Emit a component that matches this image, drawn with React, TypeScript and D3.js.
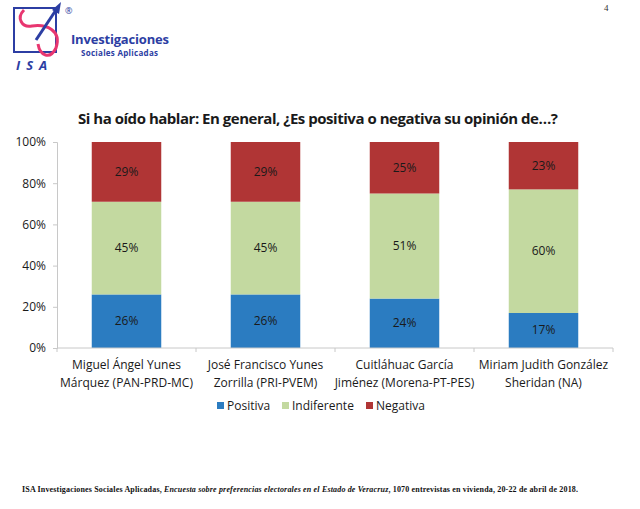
import React, { useEffect, useRef } from 'react'
import * as d3 from 'd3'

const candidates = [
  ['Miguel Ángel Yunes', 'Márquez (PAN-PRD-MC)'],
  ['José Francisco Yunes', 'Zorrilla (PRI-PVEM)'],
  ['Cuitláhuac García', 'Jiménez (Morena-PT-PES)'],
  ['Miriam Judith González', 'Sheridan (NA)'],
]
const positiva = [26, 26, 24, 17]
const indiferente = [45, 45, 51, 60]
const negativa = [29, 29, 25, 23]
const seriesNames = ['Positiva', 'Indiferente', 'Negativa'] as const
const yTicks = [0, 20, 40, 60, 80, 100]
const colors = ['#2b7cc1', '#c3d9a0', '#b03535']

const FONT = "'Open Sans', 'Noto Sans', sans-serif"

const App: React.FC = () => {
  const svgRef = useRef<SVGSVGElement | null>(null)

  useEffect(() => {
    if (!svgRef.current) return
    const svg = d3.select(svgRef.current)
    svg.selectAll('*').remove()
    const width = 640
    const height = 509
    const margin = { top: 142, right: 27, bottom: 161, left: 57 }

    svg.append('rect').attr('width', width).attr('height', height).attr('fill', '#fff')

    // ----------- Logo -----------
    const logo = svg.append('g')
    logo
      .append('rect')
      .attr('x', 14)
      .attr('y', 8)
      .attr('width', 42)
      .attr('height', 44)
      .attr('fill', 'none')
      .attr('stroke', '#2c3ea3')
      .attr('stroke-width', 2)
    logo
      .append('path')
      .attr('d', 'M24 10 C 16 18, 22 28, 32 26 C 46 24, 62 30, 56 48 C 50 60, 40 56, 38 44')
      .attr('fill', 'none')
      .attr('stroke', '#e83670')
      .attr('stroke-width', 3)
    logo
      .append('line')
      .attr('x1', 36)
      .attr('y1', 40)
      .attr('x2', 56)
      .attr('y2', 10)
      .attr('stroke', '#2c3ea3')
      .attr('stroke-width', 3)
    logo
      .append('path')
      .attr('d', 'M52 10 L61 2 L59 14 Z')
      .attr('fill', '#2c3ea3')
    logo
      .append('text')
      .attr('x', 16)
      .attr('y', 70)
      .attr('font-family', FONT)
      .attr('font-style', 'italic')
      .attr('font-weight', 'bold')
      .attr('font-size', 13)
      .attr('letter-spacing', 6)
      .attr('fill', '#2c3ea3')
      .text('ISA')
    logo
      .append('text')
      .attr('x', 65)
      .attr('y', 14)
      .attr('font-family', FONT)
      .attr('font-size', 9)
      .attr('fill', '#2c3ea3')
      .text('®')
    logo
      .append('text')
      .attr('x', 71)
      .attr('y', 44)
      .attr('font-family', FONT)
      .attr('font-weight', 'bold')
      .attr('font-size', 13)
      .attr('textLength', 98)
      .attr('fill', '#2c3ea3')
      .text('Investigaciones')
    logo
      .append('text')
      .attr('x', 81)
      .attr('y', 56)
      .attr('font-family', FONT)
      .attr('font-weight', 'bold')
      .attr('font-size', 8)
      .attr('textLength', 77)
      .attr('fill', '#2c3ea3')
      .text('Sociales Aplicadas')

    svg
      .append('text')
      .attr('x', 604)
      .attr('y', 11)
      .attr('font-family', "'Liberation Serif', serif")
      .attr('font-size', 9)
      .attr('fill', '#333')
      .text('4')

    // ----------- Title -----------
    svg
      .append('text')
      .attr('x', 318)
      .attr('y', 124)
      .attr('text-anchor', 'middle')
      .attr('font-family', FONT)
      .attr('font-weight', 'bold')
      .attr('font-size', 15)
      .attr('textLength', 480)
      .attr('fill', '#1a1a1a')
      .text('Si ha oído hablar: En general, ¿Es positiva o negativa su opinión de…?')

    // ----------- Stacked bars -----------
    const data = candidates.map((c, i) => ({
      name: c.join(' '),
      Positiva: positiva[i],
      Indiferente: indiferente[i],
      Negativa: negativa[i],
    }))
    const stacked = d3.stack<any>().keys(seriesNames as any)(data)

    const x = d3
      .scaleBand()
      .domain(data.map((d) => d.name))
      .range([margin.left, width - margin.right])
      .paddingInner(0.5)
      .paddingOuter(0.25)
    const y = d3
      .scaleLinear()
      .domain([0, 100])
      .range([height - margin.bottom, margin.top])

    const layers = svg
      .selectAll('g.layer')
      .data(stacked)
      .enter()
      .append('g')
      .attr('class', 'layer')
      .attr('fill', (_, i) => colors[i])

    layers
      .selectAll('rect')
      .data((d) => d)
      .enter()
      .append('rect')
      .attr('x', (d) => x(d.data.name)!)
      .attr('y', (d) => y(d[1]))
      .attr('width', x.bandwidth())
      .attr('height', (d) => y(d[0]) - y(d[1]))

    layers
      .selectAll('text')
      .data((d) => d)
      .enter()
      .append('text')
      .attr('x', (d) => x(d.data.name)! + x.bandwidth() / 2)
      .attr('y', (d) => (y(d[0]) + y(d[1])) / 2 + 4)
      .attr('text-anchor', 'middle')
      .attr('font-family', FONT)
      .attr('font-size', 12)
      .attr('fill', '#1a1a1a')
      .text((d) => `${d[1] - d[0]}%`)

    // ----------- Axes -----------
    const yAxis = svg
      .append('g')
      .attr('transform', `translate(${margin.left},0)`)
      .call(
        d3
          .axisLeft(y)
          .tickValues(yTicks)
          .tickSize(4)
          .tickPadding(7)
          .tickFormat((d) => `${d}%`),
      )
    yAxis.select('.domain').attr('stroke', '#c8c8c8')
    yAxis.selectAll('.tick line').attr('stroke', '#c8c8c8')
    yAxis
      .selectAll('.tick text')
      .attr('font-family', FONT)
      .attr('font-size', 12)
      .attr('fill', '#1a1a1a')

    const step = x.step()
    const boundaries = d3.range(data.length + 1).map((i) => margin.left + i * step)
    const base = y(0)
    svg
      .append('line')
      .attr('x1', margin.left)
      .attr('x2', width - margin.right)
      .attr('y1', base)
      .attr('y2', base)
      .attr('stroke', '#c8c8c8')
    svg
      .selectAll('line.ctick')
      .data(boundaries)
      .enter()
      .append('line')
      .attr('class', 'ctick')
      .attr('x1', (d) => d)
      .attr('x2', (d) => d)
      .attr('y1', base)
      .attr('y2', base + 4)
      .attr('stroke', '#c8c8c8')

    candidates.forEach((lines, i) => {
      const cx = x(data[i].name)! + x.bandwidth() / 2
      const t = svg
        .append('text')
        .attr('text-anchor', 'middle')
        .attr('font-family', FONT)
        .attr('font-size', 12)
        .attr('fill', '#1a1a1a')
      lines.forEach((line, j) => {
        t.append('tspan')
          .attr('x', cx)
          .attr('y', 369 + j * 18)
          .text(line)
      })
    })

    // ----------- Legend -----------
    const legendX = [217, 282, 366]
    const legend = svg
      .selectAll('g.legend')
      .data(seriesNames)
      .enter()
      .append('g')
      .attr('class', 'legend')
      .attr('transform', (_, i) => `translate(${legendX[i]},406)`)
    legend
      .append('rect')
      .attr('x', 0)
      .attr('y', -4)
      .attr('width', 7)
      .attr('height', 7)
      .attr('fill', (_, i) => colors[i])
    legend
      .append('text')
      .attr('x', 10)
      .attr('y', 4)
      .attr('font-family', FONT)
      .attr('font-size', 12)
      .attr('fill', '#1a1a1a')
      .text((d) => d)

    // ----------- Footer -----------
    const foot = svg
      .append('text')
      .attr('x', 22)
      .attr('y', 492)
      .attr('font-family', "'Liberation Serif', serif")
      .attr('font-size', 8)
      .attr('font-weight', 'bold')
      .attr('fill', '#111')
      .attr('textLength', 556)
    foot.append('tspan').text('ISA Investigaciones Sociales Aplicadas, ')
    foot
      .append('tspan')
      .attr('font-style', 'italic')
      .text('Encuesta sobre preferencias electorales en el Estado de Veracruz')
    foot.append('tspan').text(', 1070 entrevistas en vivienda, 20-22 de abril de 2018.')
  }, [])

  return (
    <svg
      ref={svgRef}
      width={640}
      height={509}
      style={{ position: 'absolute', left: 0, top: 0 }}
    ></svg>
  )
}

export default App
